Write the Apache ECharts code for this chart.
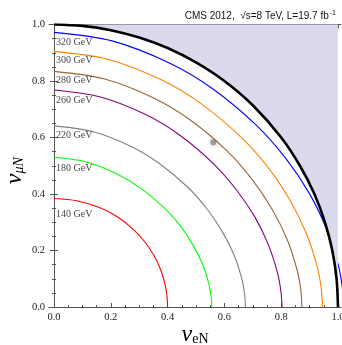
<!DOCTYPE html>
<html><head><meta charset="utf-8">
<script src="https://cdn.jsdelivr.net/npm/echarts@6/dist/echarts.min.js"></script>
<style>html,body{margin:0;padding:0;background:#fff}#c{width:342px;height:345px}</style>
</head><body><div id="c"></div>
<script>
// ---- data ----
const xMajor = [0, 0.2, 0.4, 0.6, 0.8, 1.0];
const xMinor = [0.05,0.1,0.15,0.25,0.3,0.35,0.45,0.5,0.55,0.65,0.7,0.75,0.85,0.9,0.95];

const unitCircle = [[0,1],[0.1,0.995],[0.2,0.98],[0.3,0.954],[0.4,0.917],[0.5,0.866],[0.6,0.8],[0.7,0.714],[0.8,0.6],[0.866,0.5],[0.917,0.4],[0.954,0.3],[0.98,0.2],[0.995,0.1],[1,0]];
const c320 = [[0,0.972],[0.204,0.942],[0.408,0.863],[0.561,0.771],[0.714,0.642],[0.816,0.526],[0.898,0.404],[0.959,0.278],[1.0,0.153],[1.015,0.071],[1.02,0]];
const c300 = [[0,0.905],[0.189,0.877],[0.378,0.804],[0.520,0.718],[0.662,0.598],[0.757,0.490],[0.832,0.376],[0.889,0.259],[0.927,0.142],[0.941,0.066],[0.946,0]];
const c280 = [[0,0.834],[0.175,0.808],[0.349,0.741],[0.480,0.662],[0.611,0.551],[0.698,0.451],[0.768,0.346],[0.821,0.239],[0.856,0.131],[0.869,0.061],[0.873,0]];
const c260 = [[0,0.768],[0.161,0.744],[0.321,0.682],[0.442,0.609],[0.562,0.507],[0.642,0.415],[0.707,0.319],[0.755,0.220],[0.787,0.121],[0.799,0.056],[0.803,0]];
const c220 = [[0,0.641],[0.135,0.621],[0.270,0.569],[0.371,0.508],[0.472,0.423],[0.539,0.347],[0.593,0.266],[0.634,0.184],[0.661,0.101],[0.671,0.047],[0.674,0]];
const c180 = [[0,0.530],[0.111,0.514],[0.222,0.471],[0.306,0.420],[0.389,0.350],[0.445,0.287],[0.489,0.220],[0.523,0.152],[0.545,0.083],[0.553,0.039],[0.556,0]];
const c140 = [[0,0.384],[0.08,0.376],[0.16,0.352],[0.22,0.321],[0.28,0.274],[0.32,0.230],[0.352,0.182],[0.376,0.131],[0.392,0.076],[0.398,0.038],[0.40,0]];
const massLabels = ['320 GeV','300 GeV','280 GeV','260 GeV','220 GeV','180 GeV','140 GeV'];
const labelX = [0.007,0.007,0.007,0.007,0.007,0.007,0.007];
const labelY = [0.938,0.873,0.802,0.731,0.609,0.489,0.329];
const marker = [[0.561,0.583]];

const XMIN = -0.0176, XMAX = 1.0106;
const frame = '#555';
const serif = 'Liberation Serif';

function xAx(pos, vals, len, showLine, showLabel){
  return {type:'value', min:XMIN, max:XMAX, position:pos, splitLine:{show:false},
    axisLine:{show:showLine, lineStyle:{color:frame,width:1}},
    axisTick:{show:true, inside:true, length:len, customValues:vals, lineStyle:{color:frame}},
    axisLabel:{show:showLabel, customValues:vals, formatter:v=>v.toFixed(1), fontFamily:serif, fontSize:10.5, color:'#222', margin:5}};
}
function yAx(pos, showLabel){
  return {type:'value', min:0, max:1, interval:0.2, position:pos, splitLine:{show:false},
    axisLine:{show:true, lineStyle:{color:frame,width:1}},
    axisTick:{show:true, inside:true, length:4, lineStyle:{color:frame}},
    minorTick:{show:true, splitNumber:4, length:2, lineStyle:{color:frame}},
    axisLabel:{show:showLabel, formatter:v=>v.toFixed(1), fontFamily:serif, fontSize:10.5, color:'#222', margin:4}};
}
const xb = xAx('bottom', xMajor, 4, true, true);
xb.name = '{v|ν}{s|eN}'; xb.nameLocation='middle'; xb.nameGap=16; xb.nameMoveOverlap=false;
xb.nameTextStyle = {rich:{v:{fontFamily:serif,fontStyle:'italic',fontSize:24,color:'#000'},s:{fontFamily:serif,fontSize:14,color:'#000',padding:[8,0,0,0]}}};
const yl = yAx('left', true);
yl.name = '{v|ν}{s|μN}'; yl.nameLocation='middle'; yl.nameGap=22; yl.nameRotate=90; yl.nameMoveOverlap=false;
yl.nameTextStyle = {padding:[0,10,0,0], rich:{v:{fontFamily:serif,fontStyle:'italic',fontSize:24,color:'#000'},s:{fontFamily:serif,fontSize:14,fontStyle:'italic',color:'#000',padding:[8,0,0,0]}}};

function curve(data,color,w,z){
  return {type:'line', data:data, smooth:0.3, symbol:'none', xAxisIndex:0, yAxisIndex:0,
    lineStyle:{color:color,width:w}, z:z, silent:true, clip:true};
}
const chart = echarts.init(document.getElementById('c'), null, {renderer:'canvas'});
chart.setOption({
  animation:false,
  backgroundColor:'#fff',
  title:{text:'CMS 2012,  √s=8 TeV, L=19.7 fb{sup|-1}', right:1, top:5,
    textStyle:{fontFamily:'Liberation Sans', fontSize:10, fontWeight:'normal', color:'#111',
      rich:{sup:{fontFamily:'Liberation Sans', fontSize:7, color:'#111', verticalAlign:'top', padding:[0,0,5,1]}}}},
  grid:{left:49, right:1, top:24.5, bottom:38, outerBoundsMode:'none', containLabel:false},
  xAxis:[xb, xAx('bottom', xMinor, 2, false, false), xAx('top', xMajor, 4, true, false), xAx('top', xMinor, 2, false, false)],
  yAxis:[yl, yAx('right', false)],
  series:[
    {type:'line', data:unitCircle, smooth:0.3, symbol:'none', lineStyle:{color:'#000',width:2.6}, z:5,
      areaStyle:{color:'#dadaec', opacity:1, origin:'end'}, silent:true},
    curve(c320,'#0000ff',1.1,4),
    curve(c300,'#ff8000',1.1,4),
    curve(c280,'#996633',1.1,4),
    curve(c260,'#800080',1.1,4),
    curve(c220,'#808080',1.1,4),
    curve(c180,'#00ff00',1.1,4),
    curve(c140,'#ff0000',1.1,4),
    {type:'scatter', data:marker, symbolSize:6, itemStyle:{color:'rgba(110,110,110,0.75)', shadowBlur:4, shadowColor:'rgba(100,100,100,0.8)'}, z:6, silent:true},
    {type:'scatter', symbolSize:0, z:7, silent:true,
      data:massLabels.map((t,i)=>({name:t, value:[labelX[i],labelY[i]]})),
      label:{show:true, position:'right', distance:0, formatter:p=>p.name, fontFamily:serif, fontSize:10, color:'#111'}}
  ]
});
</script></body></html>
